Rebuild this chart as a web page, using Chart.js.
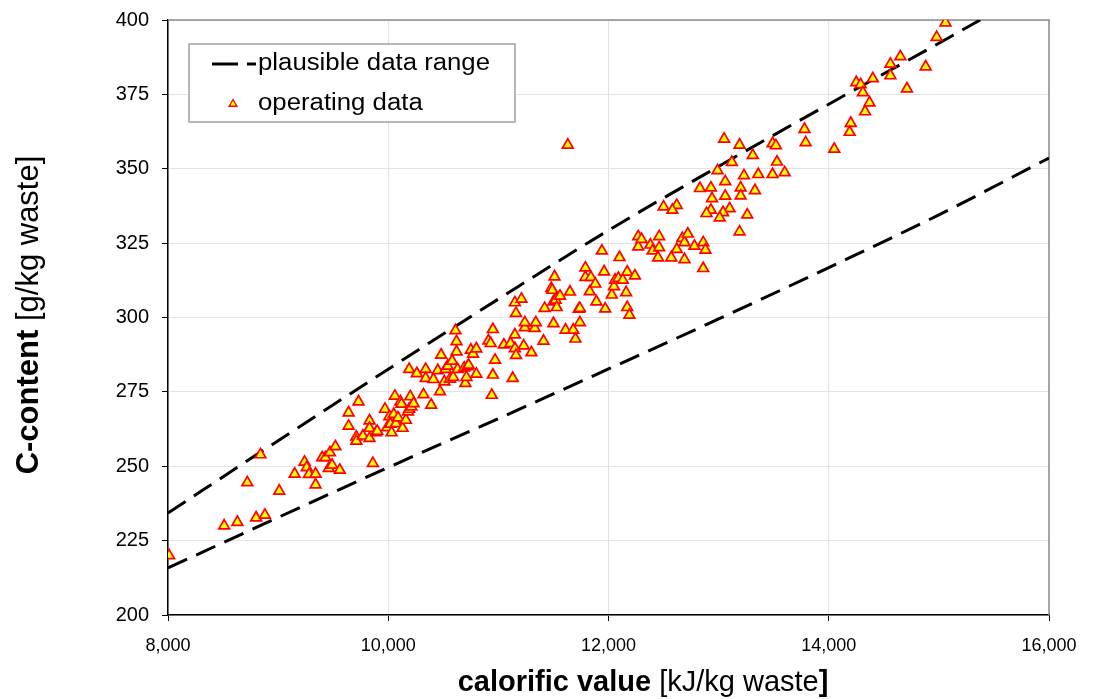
<!DOCTYPE html>
<html>
<head>
<meta charset="utf-8">
<script src="https://cdn.jsdelivr.net/npm/chart.js@4.4.1/dist/chart.umd.min.js"></script>
<style>
  html, body { margin: 0; padding: 0; background: #fff; }
  #wrap { width: 1093px; height: 699px; }
</style>
</head>
<body>
<div id="wrap"><canvas id="chart" width="1093" height="699"></canvas></div>
<script>
// ── plausible data range (dashed boundary lines) ──
const upperX = [8000, 9000, 10000, 11000, 12000, 13000, 14000, 15000, 15375];
const upperY = [234.3, 258.6, 282.6, 306.2, 329.3, 350.8, 371.7, 392.2, 400];
const lowerX = [8000, 9000, 10000, 11000, 12000, 13000, 14000, 15000, 16000];
const lowerY = [215.8, 232.8, 249.6, 266.0, 282.7, 299.5, 316.8, 334.5, 353.6];

// ── operating data: calorific value [kJ/kg] and C-content [g/kg] ──
const calorificValue = [
  8010, 8510, 8630, 8800, 8880, 8720, 9010, 8840, 9150, 9240, 9260, 9280, 9340, 9340,
  9400, 9430, 9460, 9470, 9490, 9520, 9560, 9640, 9640, 9710, 9710, 9730, 9860,
  9770, 9830, 9830, 9830, 9890, 9900, 9970, 9990, 10010, 10020, 10030, 10050, 10060,
  10070, 10090, 10110, 10120, 10130, 10160, 10180, 10190, 10200, 10210, 10230, 10320,
  10390, 10190, 10260, 10340, 10340, 10410, 10450, 10470, 10480, 10510, 10520, 10540,
  10560, 10580, 10590, 10620, 10610, 10620, 10630, 10690, 10700, 10710, 10720, 10730,
  10750, 10770, 10800, 10800, 10910, 10930, 10940, 10950, 10950, 10970, 11050, 11110,
  11130, 11150, 11150, 11160, 11160, 11150, 11210, 11230, 11240, 11240, 11300, 11330,
  11340,
  11410, 11420, 11480, 11490, 11510, 11500, 11520, 11530, 11560, 11500, 11610, 11650,
  11680, 11700, 11730, 11740, 11740, 11790, 11790, 11840, 11830, 11880, 11890, 11940,
  11960, 11970, 12030, 12050, 12060, 12090, 12100, 12130, 12160, 12170, 12170, 12190,
  12240, 12270, 12270, 12300, 12380, 12400, 12460, 12460, 12450, 12570, 12620, 12670,
  12690, 12720, 12690, 12780, 12860, 12880, 12860,
  11630, 12500, 12620, 12580,
  13050, 13190, 13120, 13310, 13490, 13520, 13530, 13780, 13790, 14050, 14200, 14190,
  12990, 12830, 12930, 13060, 13230, 13360, 13490, 13600, 13200, 13330, 12940, 13060,
  13200, 13100, 12930, 12890, 13040, 13010, 13260, 13190,
  14250, 14290, 14310, 14370, 14330, 14400, 14560, 14560, 14650,
  14710, 14880, 14980, 15060
];
const carbonContent = [
  220.0, 230.0, 231.2, 232.7, 233.6, 244.5, 241.7, 253.9, 247.4, 251.4, 249.6, 247.3, 247.4, 243.8,
  252.9, 252.9, 249.3, 254.6, 250.4, 256.6, 248.7, 268.0, 263.5, 259.9, 258.5, 271.7, 251.0,
  260.2, 265.3, 262.8, 259.4, 261.3, 261.8, 269.2, 263.0, 266.7, 264.2, 261.3, 267.5, 273.6,
  264.4, 266.3, 271.7, 270.9, 262.8, 265.5, 268.3, 269.2, 273.4, 270.0, 271.1, 274.1,
  270.6, 282.6, 281.2, 282.6, 279.6, 279.2, 282.2, 275.1, 287.4, 278.4, 282.6, 283.7,
  279.3, 285.4, 279.9, 288.5, 295.6, 291.9, 282.6, 283.1, 277.9, 279.9, 283.5, 284.0,
  289.1, 287.7, 289.5, 281.0, 292.2, 291.3, 273.9, 296.0, 280.7, 285.7, 290.8, 291.3,
  279.6, 294.2, 289.6, 287.3, 301.4, 305.0, 306.2, 290.5, 296.6, 298.3, 288.2, 296.4,
  298.3,
  292.1, 303.1, 309.8, 309.2, 313.7, 305.3, 305.9, 303.4, 307.2, 298.0, 295.8, 308.6,
  295.8, 292.8, 302.8, 303.1, 298.3, 316.7, 313.5, 313.5, 308.7, 311.3, 305.3, 322.4,
  315.4, 302.9, 307.6, 310.4, 312.6, 313.2, 320.2, 312.6, 308.4, 315.3, 303.4, 300.8,
  314.0, 327.2, 323.8, 326.3, 324.4, 322.4, 327.2, 323.5, 320.1, 320.1, 322.9, 326.6,
  325.2, 328.1, 319.5, 324.0, 325.2, 322.7, 316.5,
  358.0, 337.2, 337.7, 336.1,
  360.0, 358.0, 352.2, 354.5, 358.5, 357.8, 352.3, 363.3, 358.8, 356.6, 365.3, 362.3,
  349.4, 343.4, 343.6, 345.7, 347.7, 348.1, 348.1, 348.7, 343.6, 342.7, 340.0, 340.8,
  340.9, 336.6, 336.1, 335.0, 335.3, 333.5, 334.5, 328.8,
  379.0, 378.3, 375.6, 372.2, 369.2, 380.3, 385.2, 381.3, 387.7,
  376.9, 384.3, 394.2, 399.1
];

// ── axis ticks ──
const xTicks = [8000, 10000, 12000, 14000, 16000];
const yTicks = [200, 225, 250, 275, 300, 325, 350, 375, 400];

const FONT = "'Liberation Sans', Arial, sans-serif";
const fmt = v => String(v).replace(/\B(?=(\d{3})+(?!\d))/g, ',');
const toXY = (xs, ys) => xs.map((x, i) => ({ x, y: ys[i] }));

// draw text made of runs with different weights, centred on the origin
function drawRuns(ctx, runs, size) {
  let total = 0;
  runs.forEach(r => { ctx.font = `${r.bold ? 'bold ' : ''}${size}px ${FONT}`; r.w = ctx.measureText(r.text).width; total += r.w; });
  let x = -total / 2;
  runs.forEach(r => {
    ctx.font = `${r.bold ? 'bold ' : ''}${size}px ${FONT}`;
    ctx.fillText(r.text, x, 0);
    x += r.w;
  });
}

const frame = {
  id: 'frame',
  beforeDatasetsDraw(chart) {
    const { ctx, chartArea: a } = chart;
    ctx.save();
    ctx.strokeStyle = '#8c8c8c';
    ctx.lineWidth = 1.5;
    ctx.beginPath();
    ctx.moveTo(a.left, a.top);
    ctx.lineTo(a.right, a.top);
    ctx.lineTo(a.right, a.bottom);
    ctx.stroke();
    ctx.restore();
  }
};

const titles = {
  id: 'titles',
  afterDraw(chart) {
    const ctx = chart.ctx;
    ctx.save();
    ctx.fillStyle = '#000';
    ctx.textAlign = 'left';
    ctx.textBaseline = 'middle';
    // x title
    ctx.save();
    ctx.translate(643, 683);
    drawRuns(ctx, [
      { text: 'calorific value', bold: true },
      { text: ' [kJ/kg waste', bold: false },
      { text: ']', bold: true }
    ], 29);
    ctx.restore();
    // y title
    ctx.save();
    ctx.translate(29, 315);
    ctx.rotate(-Math.PI / 2);
    drawRuns(ctx, [
      { text: 'C-content', bold: true },
      { text: ' [g/kg waste]', bold: false }
    ], 31);
    ctx.restore();

    // legend box
    ctx.fillStyle = '#fff';
    ctx.fillRect(189, 44, 326, 78);
    ctx.strokeStyle = '#a0a0a0';
    ctx.lineWidth = 1.5;
    ctx.strokeRect(189, 44, 326, 78);
    ctx.strokeStyle = '#000';
    ctx.lineWidth = 3;
    ctx.setLineDash([26, 9]);
    ctx.beginPath();
    ctx.moveTo(212, 64);
    ctx.lineTo(256, 64);
    ctx.stroke();
    ctx.setLineDash([]);
    const ops = chart.data.datasets[0];
    ctx.fillStyle = ops.backgroundColor;
    ctx.strokeStyle = ops.borderColor;
    ctx.lineWidth = 1.3;
    Chart.helpers.drawPoint(ctx, { pointStyle: 'triangle', radius: 4.5, borderWidth: 1.3 }, 233, 104);
    ctx.fillStyle = '#000';
    ctx.font = `23px ${FONT}`;
    ctx.save();
    ctx.translate(258, 0);
    ctx.scale(1.12, 1);
    ctx.fillText('plausible data range', 0, 64);
    ctx.fillText('operating data', 0, 104);
    ctx.restore();
    ctx.restore();
  }
};

new Chart(document.getElementById('chart'), {
  type: 'scatter',
  data: {
    datasets: [
      {
        label: 'operating data',
        data: toXY(calorificValue, carbonContent),
        pointStyle: 'triangle',
        pointRadius: 6.2,
        backgroundColor: '#ffff00',
        borderColor: '#ff0000',
        borderWidth: 1.7,
        order: 0
      },
      {
        label: 'plausible data range',
        data: toXY(upperX, upperY),
        showLine: true,
        borderColor: '#000',
        borderWidth: 3,
        borderDash: [21, 10],
        pointRadius: 0,
        cubicInterpolationMode: 'monotone',
        order: 1
      },
      {
        label: 'plausible data range (lower)',
        data: toXY(lowerX, lowerY),
        showLine: true,
        borderColor: '#000',
        borderWidth: 3,
        borderDash: [21, 10],
        pointRadius: 0,
        cubicInterpolationMode: 'monotone',
        order: 1
      }
    ]
  },
  options: {
    responsive: false,
    animation: false,
    layout: { padding: { top: 20, right: 44, left: 0, bottom: 0 } },
    plugins: { legend: { display: false }, tooltip: { enabled: false } },
    scales: {
      x: {
        type: 'linear',
        min: 8000, max: 16000,
        afterBuildTicks: s => { s.ticks = xTicks.map(v => ({ value: v })); },
        afterFit: s => { s.height = 84; s.paddingLeft = 0; s.paddingRight = 0; },
        ticks: { callback: v => fmt(v), color: '#000', font: { family: FONT, size: 18 }, padding: 14, maxRotation: 0 },
        grid: { color: '#e2e2e2', tickColor: '#000', tickLength: 6, lineWidth: 1 },
        border: { color: '#000', width: 1.5 }
      },
      y: {
        min: 200, max: 400,
        afterBuildTicks: s => { s.ticks = yTicks.map(v => ({ value: v })); },
        afterFit: s => { s.width = 168; s.paddingTop = 0; s.paddingBottom = 0; },
        ticks: { color: '#000', font: { family: FONT, size: 20 }, padding: 13 },
        grid: { color: '#e2e2e2', tickColor: '#000', tickLength: 6, lineWidth: 1 },
        border: { color: '#000', width: 1.5 }
      }
    }
  },
  plugins: [frame, titles]
});
</script>
</body>
</html>
